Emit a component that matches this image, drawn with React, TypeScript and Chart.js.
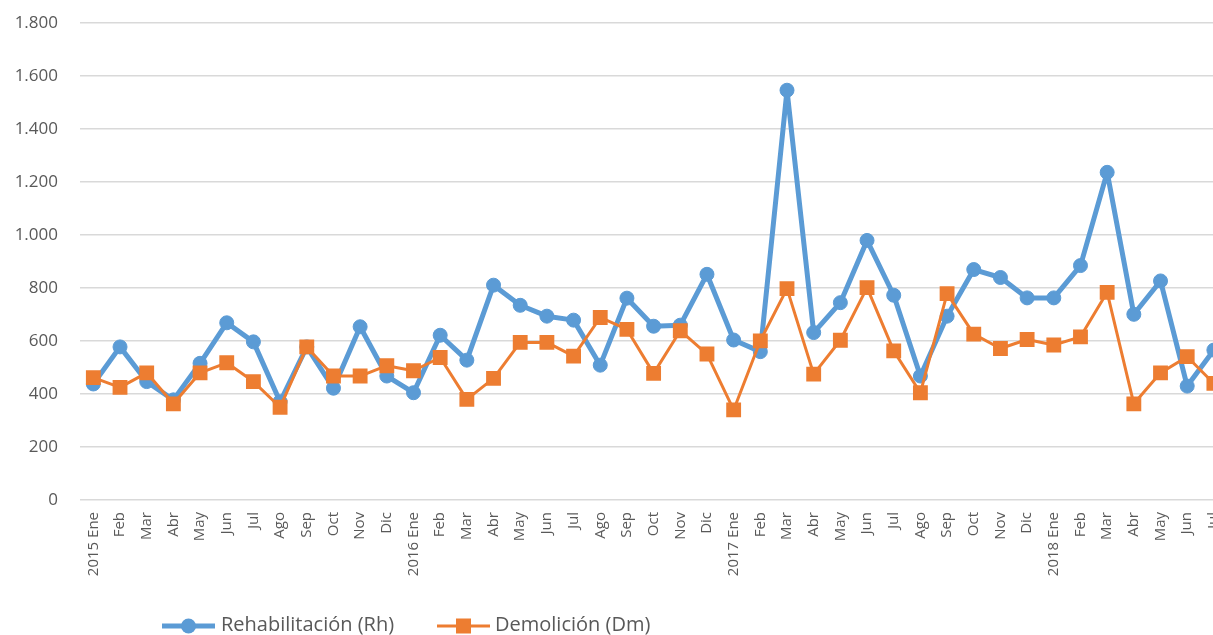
import React, { useEffect, useRef } from "react";
import { Chart, registerables } from "chart.js";

Chart.register(...registerables);

const categories: string[] = [
  "2015 Ene", "Feb", "Mar", "Abr", "May", "Jun", "Jul", "Ago", "Sep", "Oct", "Nov", "Dic",
  "2016 Ene", "Feb", "Mar", "Abr", "May", "Jun", "Jul", "Ago", "Sep", "Oct", "Nov", "Dic",
  "2017 Ene", "Feb", "Mar", "Abr", "May", "Jun", "Jul", "Ago", "Sep", "Oct", "Nov", "Dic",
  "2018 Ene", "Feb", "Mar", "Abr", "May", "Jun", "Jul",
];

const rehabilitacion: number[] = [
  438, 578, 447, 378, 516, 669, 597, 371, 578, 422, 654, 468,
  405, 622, 528, 811, 735, 694, 679, 509, 762, 656, 660, 852,
  604, 560, 1547, 632, 745, 980, 773, 468, 694, 870, 840, 763,
  763, 885, 1237, 701, 827, 430, 566,
];

const demolicion: number[] = [
  462, 425, 480, 363, 480, 518, 447, 350, 578, 468, 468, 507,
  488, 538, 380, 459, 595, 595, 543, 689, 644, 478, 639, 551,
  340, 601, 798, 475, 603, 802, 563, 405, 779, 626, 572, 606,
  585, 616, 784, 363, 480, 541, 440,
];

const seriesNames: string[] = ["Rehabilitación (Rh)", "Demolición (Dm)"];

const BLUE = "#5b9bd5";
const ORANGE = "#ed7d31";
const TEXT = "#595959";
const FONT = "'Open Sans', 'Noto Sans', sans-serif";

const SHIFT_Y = 9;
const CANVAS_W = 1244;
const CANVAS_H = 635 + SHIFT_Y;

function fmt(v: number): string {
  return String(Math.round(v)).replace(/\B(?=(\d{3})+(?!\d))/g, ".");
}

const legendPlugin = {
  id: "customLegend",
  afterDraw(chart: any) {
    const ctx = chart.ctx as CanvasRenderingContext2D;
    const y = 626 + SHIFT_Y;
    ctx.save();
    ctx.font = `20px ${FONT}`;
    ctx.textBaseline = "middle";
    // series 1
    ctx.strokeStyle = BLUE;
    ctx.lineWidth = 5;
    ctx.beginPath();
    ctx.moveTo(162, y);
    ctx.lineTo(215, y);
    ctx.stroke();
    ctx.fillStyle = BLUE;
    ctx.beginPath();
    ctx.arc(188.5, y, 7.5, 0, Math.PI * 2);
    ctx.fill();
    ctx.fillStyle = TEXT;
    ctx.fillText(seriesNames[0], 221, y - 1);
    // series 2
    ctx.strokeStyle = ORANGE;
    ctx.lineWidth = 3;
    ctx.beginPath();
    ctx.moveTo(437, y);
    ctx.lineTo(490, y);
    ctx.stroke();
    ctx.fillStyle = ORANGE;
    ctx.fillRect(463.5 - 7.5, y - 7.5, 15, 15);
    ctx.fillStyle = TEXT;
    ctx.fillText(seriesNames[1], 495, y - 1);
    ctx.restore();
  },
};

export default function App() {
  const ref = useRef<HTMLCanvasElement | null>(null);

  useEffect(() => {
    if (!ref.current) return;
    const chart = new Chart(ref.current, {
      type: "line",
      data: {
        labels: categories,
        datasets: [
          {
            label: seriesNames[0],
            data: rehabilitacion,
            borderColor: BLUE,
            backgroundColor: BLUE,
            borderWidth: 5,
            borderJoinStyle: "round",
            borderCapStyle: "round",
            pointStyle: "circle",
            pointRadius: 7,
            pointBorderWidth: 1,
            pointBorderColor: BLUE,
            pointBackgroundColor: BLUE,
            tension: 0,
            order: 2,
          },
          {
            label: seriesNames[1],
            data: demolicion,
            borderColor: ORANGE,
            backgroundColor: ORANGE,
            borderWidth: 3,
            borderJoinStyle: "round",
            borderCapStyle: "round",
            pointStyle: "rect",
            pointRadius: 10.5,
            pointBorderWidth: 0,
            pointBorderColor: ORANGE,
            pointBackgroundColor: ORANGE,
            tension: 0,
            order: 1,
          },
        ],
      },
      options: {
        animation: false,
        responsive: false,
        devicePixelRatio: 1,
        layout: { padding: { top: 22, right: 4, bottom: 55, left: 0 } },
        plugins: {
          legend: { display: false },
          tooltip: { enabled: false },
        },
        scales: {
          x: {
            offset: true,
            grid: { display: false, drawTicks: false },
            border: { display: false },
            ticks: {
              autoSkip: false,
              maxRotation: 90,
              minRotation: 90,
              padding: 12,
              color: TEXT,
              font: { family: FONT, size: 15 },
            },
            afterFit(scale: any) {
              scale.height = 80;
            },
          },
          y: {
            min: 0,
            max: 1800,
            grid: { color: "#d9d9d9", lineWidth: 1.5, drawTicks: false },
            border: { display: false },
            ticks: {
              stepSize: 200,
              padding: 22,
              color: TEXT,
              font: { family: FONT, size: 17 },
              callback: (v: any) => fmt(Number(v)),
            },
            afterFit(scale: any) {
              scale.width = 80;
            },
          },
        },
      },
      plugins: [legendPlugin],
    });
    return () => chart.destroy();
  }, []);

  return (
    <div
      style={{
        position: "fixed",
        left: 0,
        top: 0,
        width: 1213,
        height: 635,
        overflow: "hidden",
        background: "#fff",
      }}
    >
      <div style={{ width: 1260, height: CANVAS_H, marginTop: -SHIFT_Y }}>
        <canvas
          ref={ref}
          width={CANVAS_W}
          height={CANVAS_H}
          style={{ display: "block", width: CANVAS_W, height: CANVAS_H }}
        />
      </div>
    </div>
  );
}
